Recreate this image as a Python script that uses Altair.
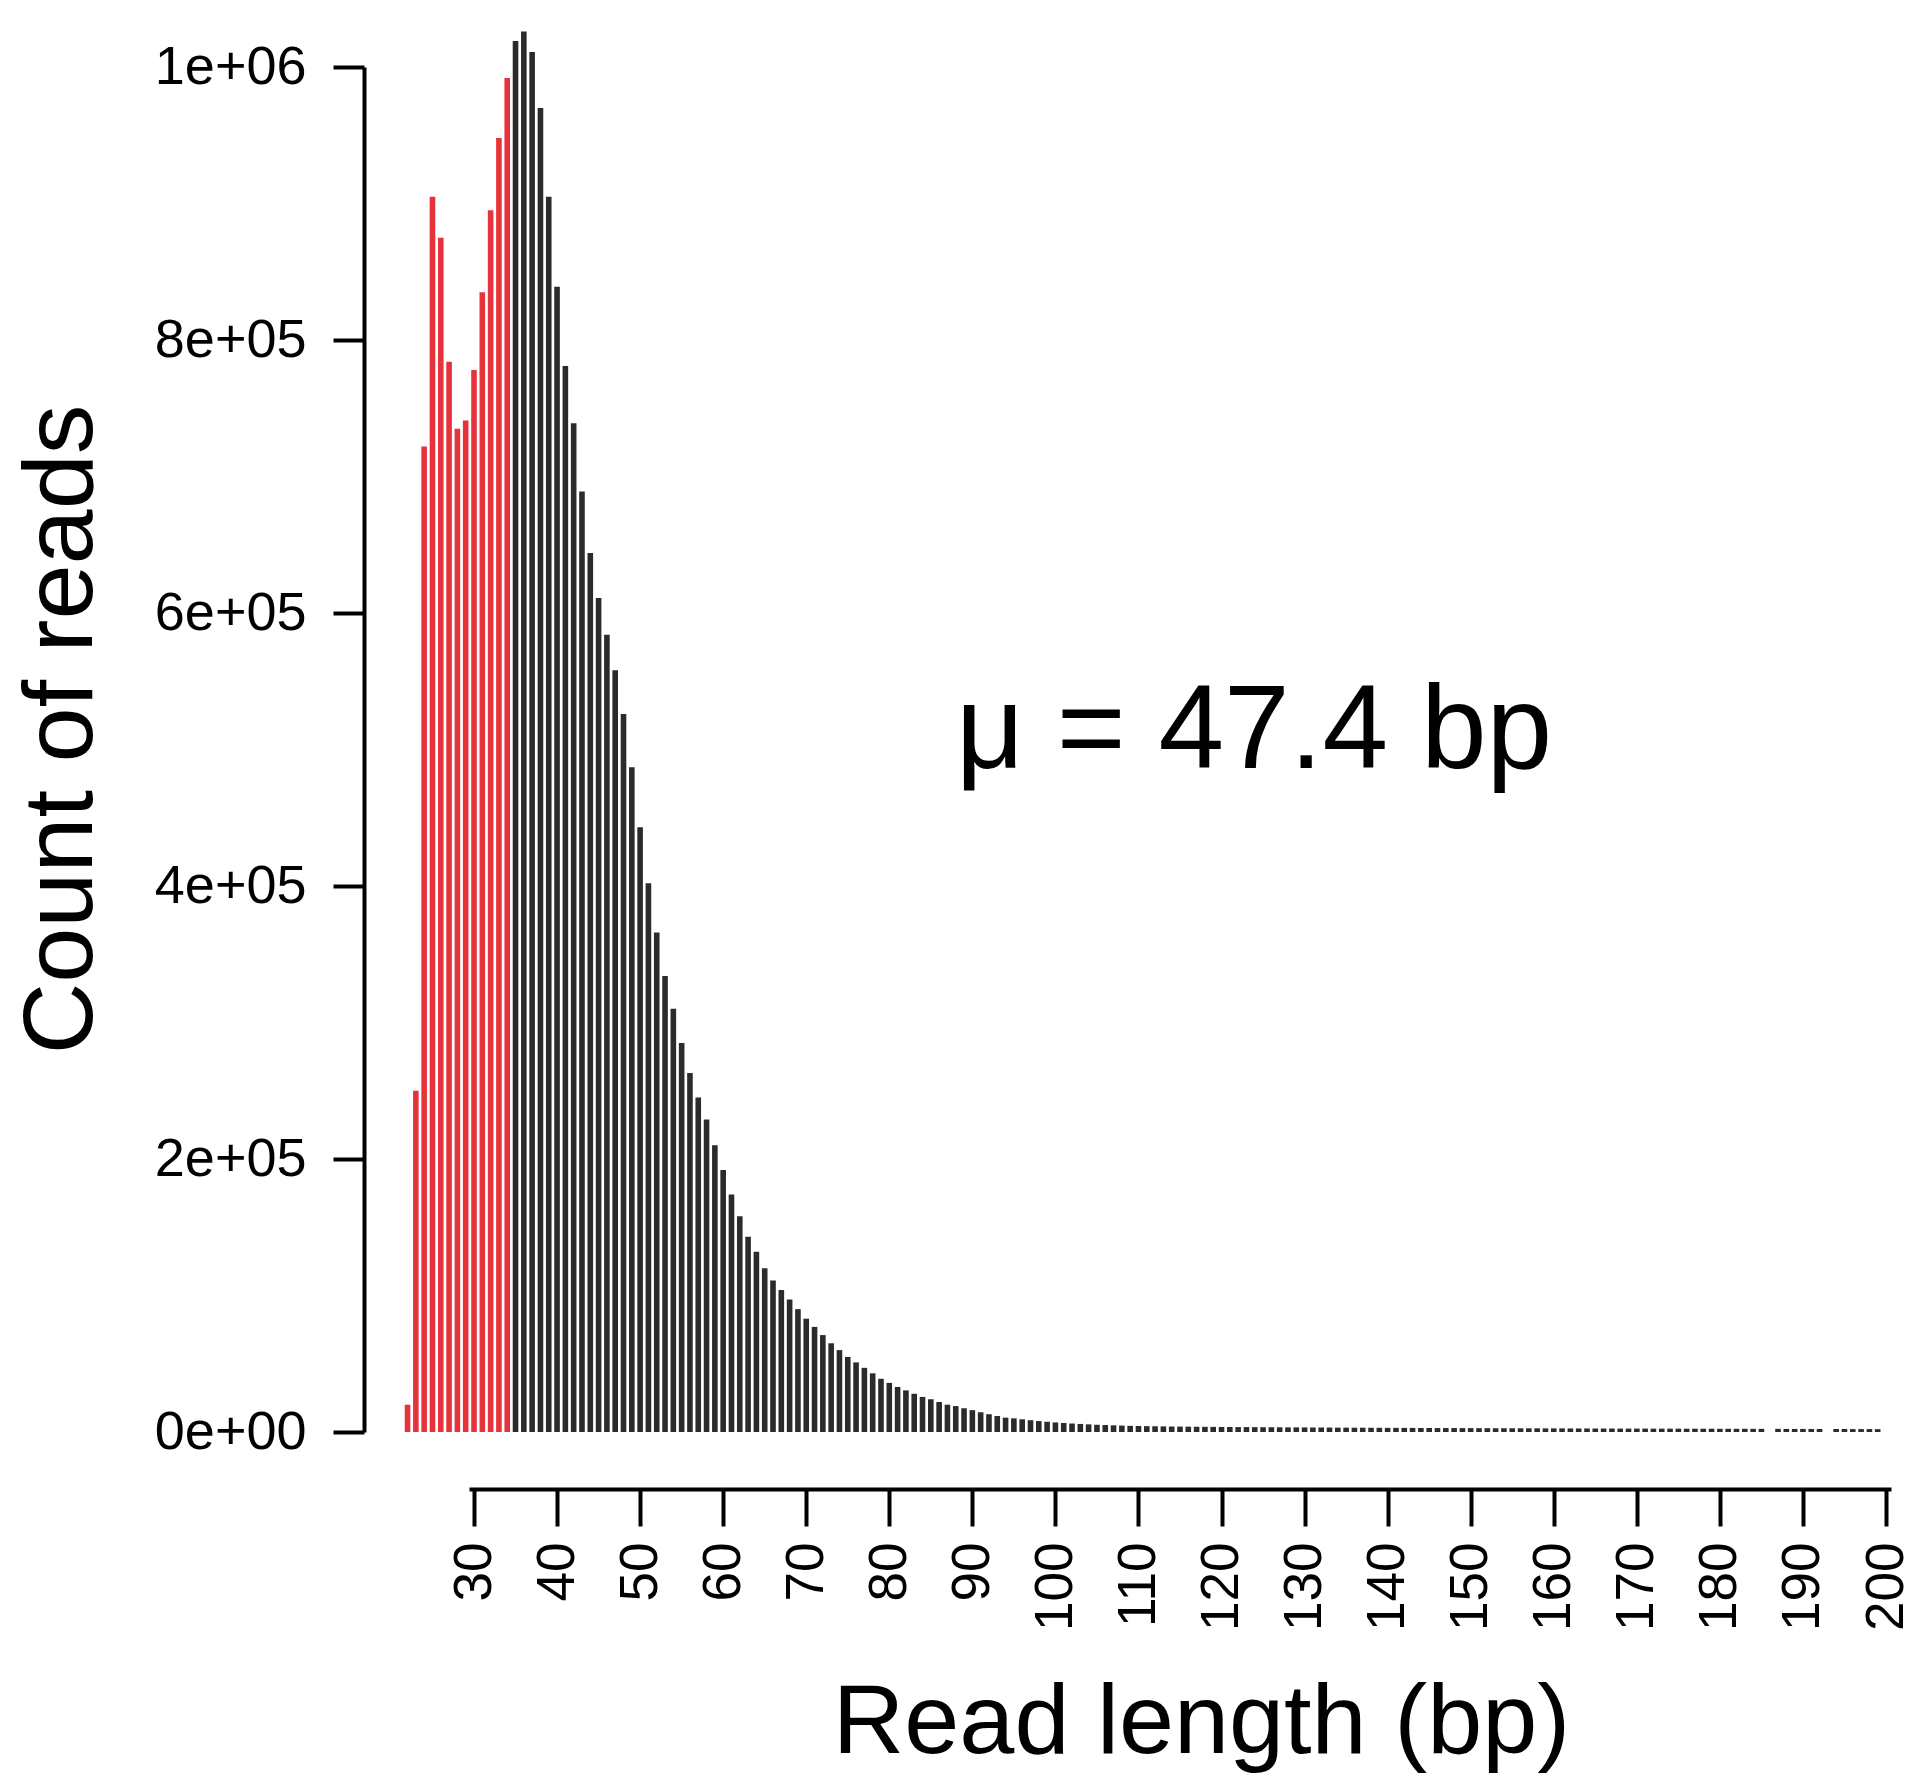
import altair as alt
import pandas as pd

# Read-length histogram: one bar per length (bp), counts of reads
read_length = list(range(22, 200))
read_count = [
    20000, 250000, 722000, 905000, 875000, 784000, 735000, 741000,        # 22-29
    778000, 835000, 895000, 948000, 992000, 1019000, 1026000, 1011000,   # 30-37
    970000, 905000, 839000, 781000, 739000, 689000, 644000, 611000,      # 38-45
    584000, 558000, 526000, 487000, 443000, 402000, 366000, 334000,      # 46-53
    310000, 285000, 263000, 245000, 229000, 210000, 192000, 174000,      # 54-61
    158000, 143000, 132000, 120000, 111000, 104000, 97000, 90000,        # 62-69
    83000, 77000, 71000, 65000, 60000, 55000, 51000, 47000,              # 70-77
    43000, 39000, 36000, 33000, 30500, 28000, 25700, 24000,              # 78-85
    22000, 20000, 19000, 17400, 16000, 14500, 13000, 11700,              # 86-93
    10500, 10000, 9300, 8600, 8000, 7500, 7000, 6600,                    # 94-101
    6200, 5900, 5600, 5300, 5100, 4900, 4700, 4500,                      # 102-109
    4400, 4300, 4200, 4100, 4000, 3950, 3900, 3850,                      # 110-117
    3800, 3750, 3700, 3650, 3600, 3600, 3550, 3500,                      # 118-125
    3500, 3450, 3400, 3400, 3350, 3300, 3300, 3250,                      # 126-133
    3200, 3200, 3150, 3150, 3100, 3100, 3050, 3050,                      # 134-141
    3000, 3000, 2950, 2950, 2900, 2900, 2900, 2850,                      # 142-149
    2850, 2800, 2800, 2800, 2750, 2750, 2700, 2700,                      # 150-157
    2700, 2650, 2650, 2650, 2600, 2600, 2600, 2550,                      # 158-165
    2550, 2550, 2500, 2500, 2500, 2500, 2450, 2450,                      # 166-173
    2450, 2450, 2400, 2400, 2400, 2400, 2350, 2350,                      # 174-181
    2350, 2350, 2300, 2300, 0, 2300, 2250, 2250,                         # 182-189
    2250, 2200, 2200, 0, 2200, 2200, 2150, 2150,                         # 190-197
    2150, 2100,                                                          # 198-199
]
assert len(read_length) == len(read_count)

mean_label = ["μ = 47.4 bp"]

x_ticks = list(range(30, 201, 10))
y_ticks = [0, 200000, 400000, 600000, 800000, 1000000]
y_tick_text = ["0e+00", "2e+05", "4e+05", "6e+05", "8e+05", "1e+06"]

FONT = "Liberation Sans"
RED = "#e6323b"
DARK = "#2b2b2b"
AXIS_W = 4

df = pd.DataFrame({"length": read_length, "count": read_count})

# R-style scientific tick labels
y_label_expr = "".join(
    f"datum.value == {v} ? '{t}' : " for v, t in zip(y_ticks, y_tick_text)
) + "''"

bars = alt.Chart(df).mark_bar(size=5.6).encode(
    x=alt.X(
        "length:Q",
        scale=alt.Scale(domain=[30, 200], nice=False, zero=False),
        axis=alt.Axis(
            values=x_ticks,
            title="Read length (bp)",
            offset=57,
            grid=False,
            domainColor="black",
            domainWidth=AXIS_W,
            tickColor="black",
            tickWidth=AXIS_W,
            tickSize=37,
            labelAngle=270,
            labelAlign="right",
            labelBaseline="middle",
            labelPadding=16,
            labelFont=FONT,
            labelFontSize=53,
            labelColor="black",
            labelFlush=False,
            labelOverlap=False,
            labelBound=False,
            titleFont=FONT,
            titleFontSize=99,
            titleFontWeight="normal",
            titleColor="black",
            titleAlign="center",
            titleBaseline="middle",
            titleX=732,
            titleY=233,
        ),
    ),
    y=alt.Y(
        "count:Q",
        scale=alt.Scale(domain=[0, 1000000], nice=False),
        axis=alt.Axis(
            values=y_ticks,
            labelExpr=y_label_expr,
            title="Count of reads",
            offset=105,
            grid=False,
            domainColor="black",
            domainWidth=AXIS_W,
            tickColor="black",
            tickWidth=AXIS_W,
            tickSize=31,
            labelPadding=27,
            labelFont=FONT,
            labelFontSize=54,
            labelColor="black",
            labelFlush=False,
            labelOverlap=False,
            labelBound=False,
            titleFont=FONT,
            titleFontSize=99,
            titleFontWeight="normal",
            titleColor="black",
            titleAngle=270,
            titleAlign="center",
            titleBaseline="middle",
            titleX=-303,
            titleY=662,
        ),
    ),
    color=alt.condition(alt.datum.length < 35, alt.value(RED), alt.value(DARK)),
)

note = alt.Chart(pd.DataFrame({"label": mean_label})).mark_text(
    align="left", baseline="alphabetic", font=FONT, fontSize=118, color="black"
).encode(
    text="label:N",
    x=alt.value(487),
    y=alt.value(701),
)

chart = (
    alt.layer(bars, note)
    .properties(
        width=1422,
        height=1365,
        autosize=alt.AutoSizeParams(type="none"),
        padding={"left": 469, "top": 67, "right": 31, "bottom": 356},
        background="white",
    )
    .configure_view(strokeWidth=0)
)

chart.save("out.html", embed_options={"renderer": "svg", "actions": False})
